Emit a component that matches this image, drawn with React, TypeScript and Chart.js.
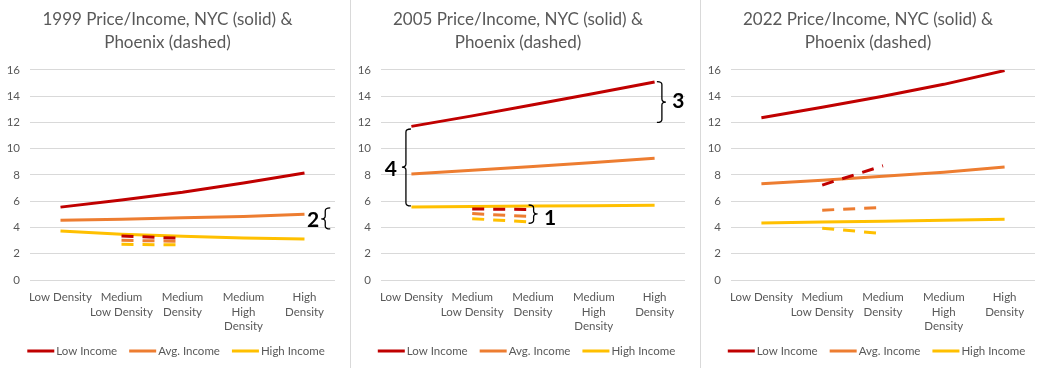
import React, { useEffect, useRef } from "react";
import { Chart, registerables } from "chart.js";

Chart.register(...registerables);

// ---------- data ----------
const categories = [
  ["Low Density"],
  ["Medium", "Low Density"],
  ["Medium", "Density"],
  ["Medium", "High", "Density"],
  ["High", "Density"],
];
const seriesNames = ["Low Income", "Avg. Income", "High Income"];
const seriesColors = ["#C00000", "#ED7D31", "#FFC000"];
const yMin = 0;
const yMax = 16;
const yStep = 2;

const title1999 = ["1999 Price/Income, NYC (solid) &", "Phoenix (dashed)"];
const title2005 = ["2005 Price/Income, NYC (solid) &", "Phoenix (dashed)"];
const title2022 = ["2022 Price/Income, NYC (solid) &", "Phoenix (dashed)"];

// NYC (solid)
const nyc1999Low = [5.55, 6.1, 6.68, 7.38, 8.15];
const nyc1999Avg = [4.55, 4.62, 4.75, 4.83, 5.0];
const nyc1999High = [3.73, 3.48, 3.33, 3.2, 3.12];
const nyc2005Low = [11.7, 12.5, 13.35, 14.2, 15.08];
const nyc2005Avg = [8.08, 8.35, 8.65, 8.95, 9.28];
const nyc2005High = [5.55, 5.6, 5.63, 5.65, 5.7];
const nyc2022Low = [12.35, 13.15, 14.0, 14.9, 15.95];
const nyc2022Avg = [7.33, 7.6, 7.9, 8.2, 8.6];
const nyc2022High = [4.35, 4.42, 4.48, 4.55, 4.63];

// Phoenix (dashed)
const phx1999Low = [null, 3.35, 3.17, null, null];
const phx1999Avg = [null, 3.02, 2.95, null, null];
const phx1999High = [null, 2.72, 2.67, null, null];
const phx2005Low = [null, 5.41, 5.37, null, null];
const phx2005Avg = [null, 5.06, 4.82, null, null];
const phx2005High = [null, 4.67, 4.4, null, null];
const phx2022Low = [null, 7.23, 8.7, null, null];
const phx2022Avg = [null, 5.32, 5.52, null, null];
const phx2022High = [null, 3.95, 3.53, null, null];

// bracket annotations (x in category index units, y in value units)
const brackets1999 = [
  { shape: "{", x: 4.34, top: 5.49, bottom: 3.89, mid: 4.65, label: "2", labelX: 4.14, labelY: 4.57 },
];
const brackets2005 = [
  { shape: "{", x: -0.09, top: 11.5, bottom: 5.64, mid: 8.6, label: "4", labelX: -0.34, labelY: 8.46 },
  { shape: "}", x: 4.12, top: 15.11, bottom: 12.0, mid: 13.55, label: "3", labelX: 4.39, labelY: 13.6 },
  { shape: "}", x: 2.01, top: 5.71, bottom: 4.32, mid: 5.03, label: "1", labelX: 2.28, labelY: 4.68 },
];
const brackets2022: any[] = [];

const FONT = "Lato, 'Liberation Sans', sans-serif";
const TEXT_COLOR = "#595959";

const bracketPlugin = {
  id: "brackets",
  afterDatasetsDraw(chart: any, _args: any, opts: any) {
    const list = (opts && opts.items) || [];
    const { ctx } = chart;
    const xs = chart.scales.x;
    const ys = chart.scales.y;
    ctx.save();
    list.forEach((b: any) => {
      const x = xs.getPixelForValue(b.x);
      const yT = ys.getPixelForValue(b.top);
      const yB = ys.getPixelForValue(b.bottom);
      const yM = ys.getPixelForValue(b.mid);
      const s = b.shape === "{" ? 1 : -1;
      ctx.beginPath();
      ctx.strokeStyle = "#000000";
      ctx.lineWidth = 1.3;
      ctx.moveTo(x + 5 * s, yT);
      ctx.quadraticCurveTo(x, yT, x, yT + 3);
      ctx.lineTo(x, yM - 3);
      ctx.quadraticCurveTo(x, yM, x - 4 * s, yM);
      ctx.quadraticCurveTo(x, yM, x, yM + 3);
      ctx.lineTo(x, yB - 3);
      ctx.quadraticCurveTo(x, yB, x + 5 * s, yB);
      ctx.stroke();
      ctx.fillStyle = "#000000";
      ctx.font = "bold 21px " + FONT;
      ctx.textAlign = "center";
      ctx.textBaseline = "middle";
      ctx.fillText(b.label, xs.getPixelForValue(b.labelX), ys.getPixelForValue(b.labelY));
    });
    ctx.restore();
  },
};

const legendPlugin = {
  id: "lineLegend",
  afterDraw(chart: any) {
    const { ctx } = chart;
    ctx.save();
    ctx.font = "11.5px " + FONT;
    const lineW = 27;
    const gapText = 2;
    const gapItem = 12;
    const widths = seriesNames.map((n) => lineW + gapText + ctx.measureText(n).width);
    const total = widths.reduce((a, b) => a + b, 0) + gapItem * (widths.length - 1);
    let x = (chart.width - total) / 2 + 1;
    const y = 351;
    seriesNames.forEach((n, i) => {
      ctx.fillStyle = seriesColors[i];
      ctx.fillRect(x, y - 1.5, lineW, 3);
      ctx.fillStyle = TEXT_COLOR;
      ctx.textAlign = "left";
      ctx.textBaseline = "middle";
      ctx.fillText(n, x + lineW + gapText, y);
      x += widths[i] + gapItem;
    });
    ctx.restore();
  },
};

function Panel(props: {
  title: string[];
  nyc: number[][];
  phx: (number | null)[][];
  brackets: any[];
  width: number;
}) {
  const ref = useRef<HTMLCanvasElement>(null);
  useEffect(() => {
    if (!ref.current) return;
    const datasets: any[] = [];
    props.nyc.forEach((d, i) => {
      datasets.push({
        label: seriesNames[i],
        data: d,
        borderColor: seriesColors[i],
        backgroundColor: seriesColors[i],
        borderWidth: 3,
        pointRadius: 0,
        tension: 0,
        fill: false,
        order: 2,
      });
    });
    props.phx.forEach((d, i) => {
      datasets.push({
        label: "Phoenix " + seriesNames[i],
        data: d,
        borderColor: seriesColors[i],
        backgroundColor: seriesColors[i],
        borderWidth: 3,
        borderDash: [12, 9],
        pointRadius: 0,
        tension: 0,
        fill: false,
        spanGaps: false,
        order: 1,
      });
    });
    const chart = new Chart(ref.current, {
      type: "line",
      data: { labels: categories as any, datasets },
      plugins: [bracketPlugin, legendPlugin],
      options: {
        animation: false,
        responsive: false,
        events: [],
        layout: { padding: { left: 0, right: 15, top: 0, bottom: 30 } },
        plugins: {
          legend: { display: false },
          tooltip: { enabled: false },
          title: {
            display: true,
            text: props.title,
            color: TEXT_COLOR,
            font: { family: FONT, size: 17, weight: "normal", lineHeight: 1.35 },
            padding: { top: 8, bottom: 16 },
          },
          brackets: { items: props.brackets },
        } as any,
        scales: {
          x: {
            offset: true,
            grid: { display: false },
            border: { display: false },
            ticks: {
              color: TEXT_COLOR,
              font: { family: FONT, size: 11.5, lineHeight: 1.27 },
              padding: 2,
              maxRotation: 0,
              autoSkip: false,
            },
            afterFit: (s: any) => {
              s.height = 58;
            },
          },
          y: {
            min: yMin,
            max: yMax,
            grid: { color: "#d9d9d9", lineWidth: 1, drawTicks: false },
            border: { display: false },
            ticks: {
              stepSize: yStep,
              color: TEXT_COLOR,
              font: { family: FONT, size: 11.5 },
              padding: 10,
            },
            afterFit: (s: any) => {
              s.width = 30;
            },
          },
        },
      },
    });
    return () => chart.destroy();
  }, []);
  return <canvas ref={ref} width={props.width} height={368} style={{ display: "block" }} />;
}

export default function App() {
  return (
    <div
      style={{
        position: "absolute",
        left: 0,
        top: 0,
        width: 1050,
        height: 368,
        background: "#ffffff",
        display: "flex",
      }}
    >
      <div style={{ width: 350, height: 368 }}>
        <Panel
          title={title1999}
          nyc={[nyc1999Low, nyc1999Avg, nyc1999High]}
          phx={[phx1999Low, phx1999Avg, phx1999High]}
          brackets={brackets1999}
          width={350}
        />
      </div>
      <div style={{ width: 350, height: 368, borderLeft: "1px solid #d9d9d9", boxSizing: "border-box" }}>
        <Panel
          title={title2005}
          nyc={[nyc2005Low, nyc2005Avg, nyc2005High]}
          phx={[phx2005Low, phx2005Avg, phx2005High]}
          brackets={brackets2005}
          width={349}
        />
      </div>
      <div style={{ width: 350, height: 368, borderLeft: "1px solid #d9d9d9", boxSizing: "border-box" }}>
        <Panel
          title={title2022}
          nyc={[nyc2022Low, nyc2022Avg, nyc2022High]}
          phx={[phx2022Low, phx2022Avg, phx2022High]}
          brackets={brackets2022}
          width={349}
        />
      </div>
    </div>
  );
}
